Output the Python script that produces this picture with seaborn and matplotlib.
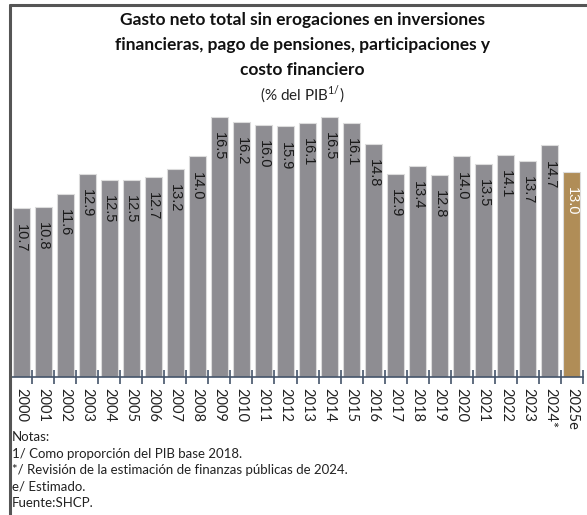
import matplotlib
matplotlib.use('Agg')
import matplotlib.pyplot as plt
import seaborn as sns
import pandas as pd
from matplotlib.lines import Line2D

# Data
years = ['2000', '2001', '2002', '2003', '2004', '2005', '2006', '2007', '2008',
         '2009', '2010', '2011', '2012', '2013', '2014', '2015', '2016', '2017',
         '2018', '2019', '2020', '2021', '2022', '2023', '2024*', '2025e']
values = [10.7, 10.8, 11.6, 12.9, 12.5, 12.5, 12.7, 13.2, 14.0,
          16.5, 16.2, 16.0, 15.9, 16.1, 16.5, 16.1, 14.8, 12.9,
          13.4, 12.8, 14.0, 13.5, 14.1, 13.7, 14.7, 13.0]

notes = ['Notas:',
         '1/ Como proporción del PIB base 2018.',
         '*/ Revisión de la estimación de finanzas públicas de 2024.',
         'e/ Estimado.',
         'Fuente:SHCP.']

GRAY = '#8e8d92'
GOLD = '#b08d57'
AXIS = '#44546a'
TEXT = '#222222'

sns.set_style('white')
plt.rcParams['font.family'] = ['Lato', 'DejaVu Sans']
plt.rcParams['xtick.bottom'] = True
plt.rcParams['xtick.minor.bottom'] = True

df = pd.DataFrame({'year': years, 'value': values})
colors = [GRAY] * (len(years) - 1) + [GOLD]

fig = plt.figure(figsize=(5.87, 5.15), dpi=100)
ax = fig.add_axes([10 / 587, 1 - 377 / 515, 573 / 587, 268 / 515])

sns.barplot(data=df, x='year', y='value', hue='year', palette=colors,
            legend=False, width=0.77, edgecolor='#dcdcdc', linewidth=0.8,
            saturation=1, ax=ax)

# value labels inside the bars, rotated
for i, p in enumerate(ax.patches):
    h = p.get_height()
    ax.annotate(f'{h:.1f}', (p.get_x() + p.get_width() / 2, h),
                xytext=(0, -11), textcoords='offset points',
                ha='center', va='top', rotation=-90, fontsize=10.5,
                family='Liberation Sans',
                color='white' if i == len(years) - 1 else '#1a1a1a')

ax.set_xlim(-0.5, len(years) - 0.5)
ax.set_ylim(0, 17)
ax.set_xlabel('')
ax.set_ylabel('')
ax.set_yticks([])
sns.despine(ax=ax, left=True, top=True, right=True)
ax.spines['bottom'].set_color(AXIS)
ax.spines['bottom'].set_linewidth(1.2)

ax.set_xticks(range(len(years)))
ax.set_xticklabels(years, rotation=-90, fontsize=10.5, color=TEXT)
ax.tick_params(axis='x', which='major', length=0, pad=8)
ax.set_xticks([i - 0.5 for i in range(len(years) + 1)], minor=True)
ax.tick_params(axis='x', which='minor', length=10, direction='inout',
               color=AXIS, width=1.2, bottom=True)

# title
title = ['Gasto neto total sin erogaciones en inversiones',
         'financieras, pago de pensiones, participaciones y',
         'costo financiero']
for k, line in enumerate(title):
    fig.text(0.515, 1 - (20 + k * 25) / 515, line, ha='center', va='center',
             fontsize=12.5, fontweight='bold', color='#111111')
fig.text(0.515, 1 - 95 / 515, r'(% del PIB$^{\mathregular{1/}}$)',
         ha='center', va='center', fontsize=11, color=TEXT)

# notes
for k, line in enumerate(notes):
    fig.text(12 / 587, 1 - (437 + k * 16.5) / 515, line, ha='left',
             va='center', fontsize=9.5, color=TEXT)

# frame lines (top and left)
fig.add_artist(Line2D([10 / 587, 1], [1 - 5 / 515, 1 - 5 / 515],
                      transform=fig.transFigure, color='#555555', lw=2.2))
fig.add_artist(Line2D([10 / 587, 10 / 587], [0, 1 - 5 / 515],
                      transform=fig.transFigure, color='#555555', lw=2.2))

fig.savefig('out.png', dpi=100)
